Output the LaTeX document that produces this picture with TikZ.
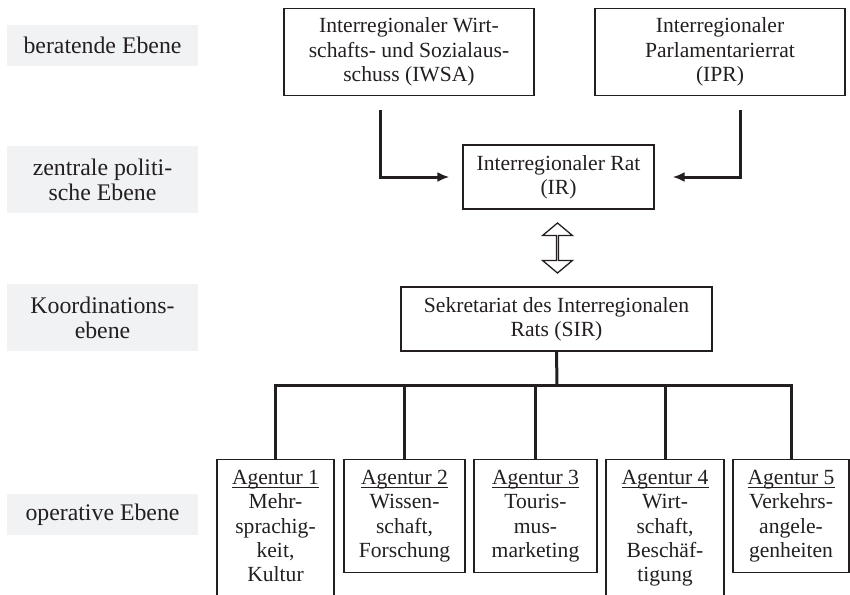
\documentclass[tikz,border=0pt]{standalone}
\usepackage{amsmath}
\usepackage{fontspec}
\setmainfont{Liberation Serif}
\usepackage{xcolor}
\usepackage{tikz}
\usetikzlibrary{arrows.meta,shapes.arrows,calc}

\definecolor{ink}{HTML}{231F20}
\definecolor{levelgray}{HTML}{F1F2F4}

\newcommand{\agname}[1]{\underline{\smash[b]{#1}}}
\newcommand{\lowstrut}{\rule[-12pt]{0pt}{12pt}}

\tikzset{
  level/.style={fill=levelgray, minimum width=191pt, align=center, inner sep=0pt,
    text=ink, font=\fontsize{23.8}{25}\selectfont},
  unit/.style={draw=ink, line width=1.3pt, align=center, inner sep=0pt,
    text=ink, font=\fontsize{21.6}{24.3}\selectfont},
  agency/.style={unit, anchor=north, inner ysep=10.5pt},
  feed/.style={draw=ink, line width=3pt, -{Latex[length=12pt,width=10pt]}},
  branch/.style={draw=ink, line width=3pt},
  linkarrow/.style={double arrow, draw=ink, line width=1.3pt, inner sep=0pt,
    minimum width=30pt, minimum height=50pt, double arrow head extend=9pt,
    double arrow tip angle=100, rotate=90}
}

\begin{document}
\begin{tikzpicture}[x=1pt,y=-1pt]
\useasboundingbox (0,0) rectangle (850,594);
\clip (0,0) rectangle (850,594);

% levels
\node (lvl1) at (102.5,45.5) [level, minimum height=41pt] {beratende Ebene};
\node (lvl2) at (102.5,179.5) [level, minimum height=67pt] {zentrale politi-\\sche Ebene};
\node (lvl3) at (102.5,317.5) [level, minimum height=67pt] {Koordinations-\\ebene};
\node (lvl4) at (102.5,514.5) [level, minimum height=41pt] {operative Ebene};

% bodies
\node (iwsa) at (409,52) [unit, minimum width=250pt, minimum height=87pt]
  {Interregionaler Wirt-\\schafts- und Sozialaus-\\schuss (IWSA)};
\node (ipr) at (720,52) [unit, minimum width=250pt, minimum height=87pt]
  {Interregionaler\\Parlamentarierrat\\(IPR)};
\node (ir) at (558.5,177) [unit, minimum width=191pt, minimum height=64pt]
  {Interregionaler Rat\\(IR)};
\node (sir) at (556.5,319) [unit, minimum width=311pt, minimum height=64pt]
  {Sekretariat des Interregionalen\\Rats (SIR)};

% agencies
\node (ag1) at (275.5,459) [agency, minimum width=117pt]
  {\agname{Agentur 1}\\Mehr-\\sprachig-\\keit,\\Kultur\lowstrut};
\node (ag2) at (404.5,459) [agency, minimum width=121pt]
  {\agname{Agentur 2}\\Wissen-\\schaft,\\Forschung};
\node (ag3) at (535.5,459) [agency, minimum width=123pt]
  {\agname{Agentur 3}\\Touris-\\mus-\\marketing};
\node (ag4) at (665,459) [agency, minimum width=118pt]
  {\agname{Agentur 4}\\Wirt-\\schaft,\\Beschäf-\\tigung\lowstrut};
\node (ag5) at (791,459) [agency, minimum width=116pt]
  {\agname{Agentur 5}\\Verkehrs-\\angele-\\genheiten};

\draw [feed, shorten <=14pt, shorten >=13pt] ([xshift=-29pt]iwsa.south) |- (ir.west);
\draw [feed, shorten <=14pt, shorten >=18pt] ([xshift=20pt]ipr.south) |- (ir.east);

\node (link) at ($(ir.south)!0.5!(sir.north)$) [linkarrow] {};

\coordinate (bus) at (557,385);
\draw [branch] (sir.south) -- (bus);
\foreach \a in {ag1,ag2,ag3,ag4,ag5}
  \draw [branch] (bus) -| (\a.north);
\end{tikzpicture}
\end{document}
